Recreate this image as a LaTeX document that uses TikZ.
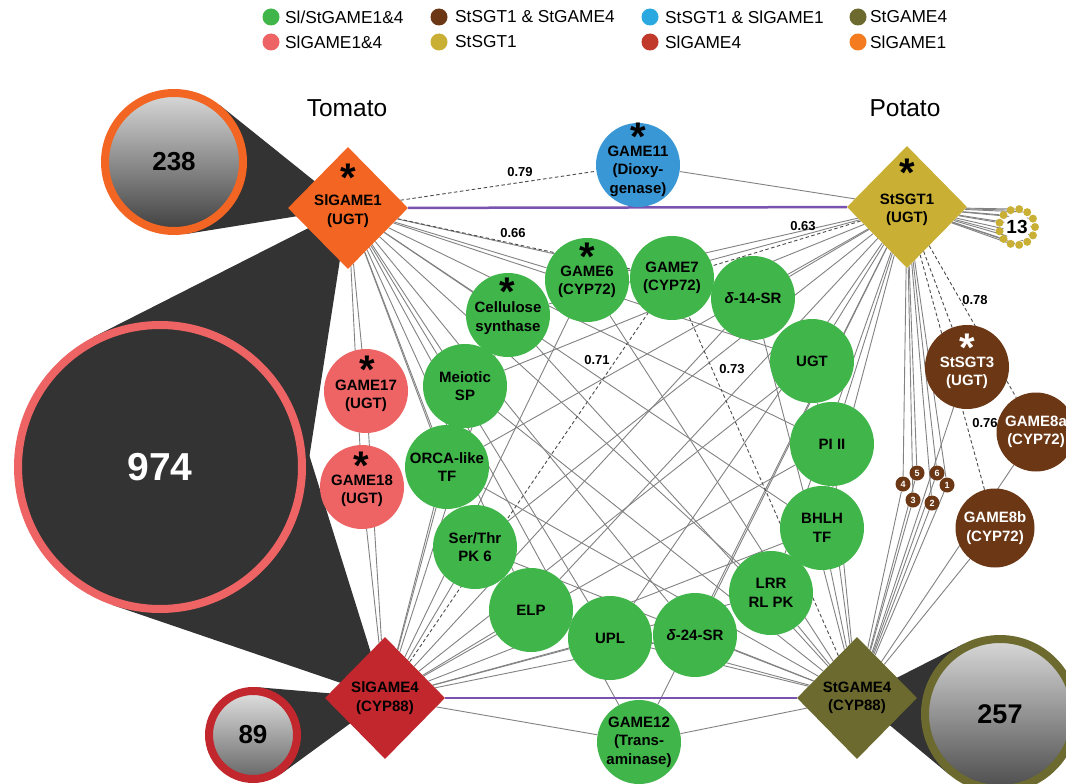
\documentclass[tikz,border=0pt]{standalone}
\usepackage{fontspec}
\setmainfont{Liberation Sans}
\usetikzlibrary{shapes.geometric,calc}
\pgfdeclarelayer{back}
\pgfdeclarelayer{edges}
\pgfsetlayers{back,edges,main}
\definecolor{cgreen}{HTML}{40B54A}
\definecolor{cpink}{HTML}{EE6464}
\definecolor{cbrown}{HTML}{6B3714}
\definecolor{cmust}{HTML}{C9AF33}
\definecolor{cblue}{HTML}{3A97D6}
\definecolor{clblue}{HTML}{2AA9E0}
\definecolor{cred}{HTML}{C1272D}
\definecolor{clred}{HTML}{C0392B}
\definecolor{colive}{HTML}{6C6A2E}
\definecolor{corange}{HTML}{F26522}
\definecolor{clorange}{HTML}{F47B20}
\definecolor{cpurple}{HTML}{7A52B0}
\definecolor{cdark}{HTML}{333333}
\definecolor{cedge}{HTML}{828282}
\newcommand\nf{\bfseries\fontsize{15}{18.5}\selectfont}
\newcommand\astglyph{\raisebox{-0.475em}[0.19em][0.19em]{*}}
\begin{document}
\begin{tikzpicture}[x=1pt,y=-1pt,
  gnode/.style={circle, fill=cgreen, minimum size=84pt, inner sep=0pt, align=center, font=\nf},
  pnode/.style={gnode, fill=cpink},
  bnode/.style={gnode, fill=cbrown, text=white, minimum size=79pt},
  dnode/.style={diamond, aspect=1, minimum width=120pt, minimum height=122pt, inner sep=0pt, align=center, font=\nf},
  nt/.style={align=center, font=\nf, inner sep=0pt},
  edge/.style={draw=cedge, line width=0.9pt},
  dashedge/.style={draw=black!70, line width=0.9pt, dash pattern=on 3.5pt off 2.5pt},
  purp/.style={draw=cpurple, line width=2.5pt},
  ast/.style={font=\bfseries\fontsize{40}{40}\selectfont, inner sep=0pt, anchor=center},
  val/.style={font=\bfseries\fontsize{13}{13}\selectfont, inner sep=1pt},
  legdot/.style={circle, minimum size=17pt, inner sep=0pt},
  legtext/.style={anchor=west, font=\fontsize{17.3}{17.3}\selectfont, inner sep=0pt},
  big/.style={circle, inner sep=0pt, line width=8pt},
  ndot/.style={circle, fill=cbrown, minimum size=15pt, inner sep=0pt, text=white, font=\bfseries\fontsize{9}{9}\selectfont},
  tdot/.style={circle, fill=cmust, minimum size=8pt, inner sep=0pt},
  title/.style={font=\fontsize{24.5}{24.5}\selectfont, inner sep=0pt}
]
\useasboundingbox (0,0) rectangle (1066,784);

% legend
\node[legdot, fill=cgreen] (l1) at (271,17) {};
\node[legtext] (lt1) at (285,17) {Sl/StGAME1\&4};
\node[legdot, fill=cpink] (l2) at (271,42) {};
\node[legtext] (lt2) at (285,42) {SlGAME1\&4};
\node[legdot, fill=cbrown] (l3) at (439,17) {};
\node[legtext] (lt3) at (455,17) {StSGT1 \& StGAME4};
\node[legdot, fill=cmust] (l4) at (439,42) {};
\node[legtext] (lt4) at (455,42) {StSGT1};
\node[legdot, fill=clblue] (l5) at (650,17) {};
\node[legtext] (lt5) at (665,17) {StSGT1 \& SlGAME1};
\node[legdot, fill=clred] (l6) at (650,42) {};
\node[legtext] (lt6) at (665,42) {SlGAME4};
\node[legdot, fill=colive] (l7) at (858,17) {};
\node[legtext] (lt7) at (870,17) {StGAME4};
\node[legdot, fill=clorange] (l8) at (858,42) {};
\node[legtext] (lt8) at (870,42) {SlGAME1};

\node[title] (tom) at (347,108) {Tomato};
\node[title] (pot) at (905,108) {Potato};

% big count circles
\node[big, draw=corange, minimum size=138pt, top color=black!15, bottom color=black!75, font=\bfseries\fontsize{26}{26}\selectfont] (c238) at (174,162) {238};
\node[big, draw=cpink, fill=cdark, minimum size=284pt, text=white, font=\bfseries\fontsize{39}{39}\selectfont] (c974) at (160,467) {974};
\node[big, draw=cred, minimum size=88pt, top color=black!12, bottom color=black!60, font=\bfseries\fontsize{26}{26}\selectfont] (c89) at (253,735) {89};
\node[big, draw=colive, minimum size=150pt, top color=black!15, bottom color=black!70, font=\bfseries\fontsize{27}{27}\selectfont] (c257) at (1000,714) {257};

% diamonds
\node[dnode, fill=corange] (A) at (348,208) {};
\node[nt] (At) at ([yshift=-3pt]A.center) {SlGAME1\\(UGT)};
\node[dnode, fill=cmust] (B) at (907,207) {};
\node[nt] (Bt) at ([yshift=-3pt]B.center) {StSGT1\\(UGT)};
\node[dnode, fill=cred] (C) at (385,698) {SlGAME4\\(CYP88)};
\node[dnode, fill=colive] (D) at (857,698) {StGAME4\\(CYP88)};

% green nodes
\node[gnode] (g1) at (508,315) {};
\node[nt] (g1t) at ([yshift=-3pt]g1.center) {Cellulose\\synthase};
\node[gnode] (g2) at (587,280) {};
\node[nt] (g2t) at ([yshift=-2pt]g2.center) {GAME6\\(CYP72)};
\node[gnode] (g3) at (672,278) {GAME7\\(CYP72)};
\node[gnode] (g4) at (753,298) {\textit{δ}-14-SR};
\node[gnode] (g5) at (812,361) {UGT};
\node[gnode] (g6) at (832,444) {PI II};
\node[gnode] (g7) at (822,528) {BHLH\\TF};
\node[gnode] (g8) at (771,593) {LRR\\RL PK};
\node[gnode] (g9) at (695,635) {\textit{δ}-24-SR};
\node[gnode] (g10) at (610,638) {UPL};
\node[gnode] (g11) at (531,610) {ELP};
\node[gnode] (g12) at (475,547) {Ser/Thr\\PK 6};
\node[gnode] (g13) at (447,467) {ORCA-like\\TF};
\node[gnode] (g14) at (465,386) {Meiotic\\SP};
\node[gnode] (g15) at (639,742) {GAME12\\(Trans-\\aminase)};
\node[gnode, fill=cblue] (gB) at (638,165) {};
\node[nt] (gBt) at ([yshift=-6pt]gB.center) {GAME11\\(Dioxy-\\genase)};

% pink
\node[pnode] (p1) at (366,391) {};
\node[nt] (p1t) at ([yshift=-5pt]p1.center) {GAME17\\(UGT)};
\node[pnode] (p2) at (362,487) {};
\node[nt] (p2t) at ([yshift=-4pt]p2.center) {GAME18\\(UGT)};

% brown
\node[bnode, minimum size=84pt] (s3) at (967,367) {};
\node[nt, text=white] (s3t) at ([yshift=-6pt]s3.center) {StSGT3\\(UGT)};
\node[bnode] (g8a) at (1036,432) {GAME8a\\(CYP72)};
\node[bnode] (g8b) at (995,528) {GAME8b\\(CYP72)};
\node[ndot] (n5) at (917,473) {5};
\node[ndot] (n6) at (937,473) {6};
\node[ndot] (n4) at (903,484) {4};
\node[ndot] (n1) at (947,485) {1};
\node[ndot] (n3) at (913,500) {3};
\node[ndot] (n2) at (932,503) {2};

% 13 ring
\node[circle, fill=white, minimum size=27pt, inner sep=0pt, font=\bfseries\fontsize{19}{19}\selectfont] (c13) at (1017,227) {13};
\foreach \i in {1,...,13}{
  \node[tdot] (t\i) at ($(c13.center)+({\i*360/13}:18)$) {};
}

% asterisks
\node[ast] (aA) at (348,172) {\astglyph};
\node[ast] (aB) at (907,167) {\astglyph};
\node[ast] (agB) at (638,131) {\astglyph};
\node[ast] (ag2) at (587,251) {\astglyph};
\node[ast] (ag1) at (507,286) {\astglyph};
\node[ast] (ap1) at (367,364) {\astglyph};
\node[ast] (ap2) at (361,460) {\astglyph};
\node[ast, text=white] (as3) at (967,342) {\astglyph};

% correlation values
\node[val] (v79) at (520,172) {0.79};
\node[val] (v66) at (513,233) {0.66};
\node[val] (v63) at (803,226) {0.63};
\node[val] (v71) at (597,360) {0.71};
\node[val] (v73) at (732,369) {0.73};
\node[val] (v78) at (975,300) {0.78};
\node[val] (v76) at (985,423) {0.76};

% cones
\begin{pgfonlayer}{back}
\fill[white] (0,0) rectangle (1066,784);
\fill[cdark] (A.center) -- (tangent cs:node=c238,point={(A.center)},solution=1) -- (tangent cs:node=c238,point={(A.center)},solution=2) -- cycle;
\fill[cdark] (A.center) -- (tangent cs:node=c974,point={(A.center)},solution=1) -- (tangent cs:node=c974,point={(A.center)},solution=2) -- cycle;
\fill[cdark] (C.center) -- (tangent cs:node=c974,point={(C.center)},solution=1) -- (tangent cs:node=c974,point={(C.center)},solution=2) -- cycle;
\fill[cdark] (C.center) -- (tangent cs:node=c89,point={(C.center)},solution=1) -- (tangent cs:node=c89,point={(C.center)},solution=2) -- cycle;
\fill[cdark] (D.center) -- (tangent cs:node=c257,point={(D.center)},solution=1) -- (tangent cs:node=c257,point={(D.center)},solution=2) -- cycle;
\end{pgfonlayer}

% edges
\begin{pgfonlayer}{edges}
\foreach \d in {A,B,C,D}{
  \foreach \g in {g1,g2,g4,g5,g6,g7,g8,g9,g10,g11,g12,g13,g14,g15}{
    \draw[edge] (\d) -- (\g);
  }
  \draw[dashedge] (\d) -- (g3);
}
\foreach \p in {p1,p2}{
  \draw[edge] (A) -- (\p);
  \draw[edge] (C) -- (\p);
}
\draw[dashedge] (A) -- (gB);
\draw[edge] (B) -- (gB);
\foreach \s in {s3,g8a,g8b,n1,n2,n3,n4,n5,n6}{
  \draw[edge] (D) -- (\s);
}
\foreach \s in {n1,n2,n3,n4,n5,n6}{
  \draw[edge] (B) -- (\s);
}
\draw[dashedge] (B) -- (s3);
\draw[dashedge] (B) -- (g8a);
\draw[dashedge] (B) -- (g8b);
\foreach \i in {1,...,13}{
  \draw[edge] (B) -- (t\i);
}
\draw[purp] (A) -- (B);
\draw[purp] (C) -- (D);
\end{pgfonlayer}
\end{tikzpicture}
\end{document}
